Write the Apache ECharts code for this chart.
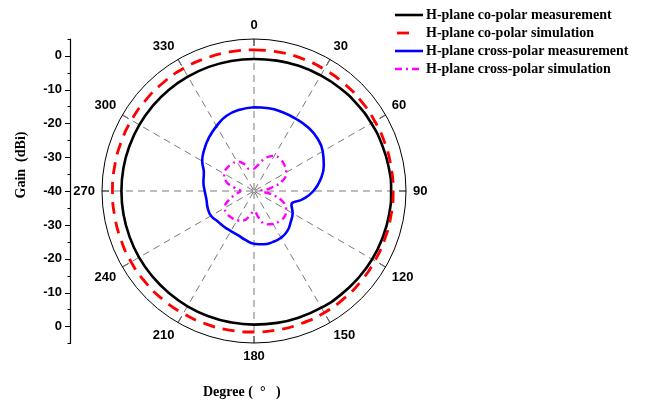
<!DOCTYPE html>
<html><head><meta charset="utf-8">
<script src="https://cdn.jsdelivr.net/npm/echarts@6/dist/echarts.min.js"></script>
<style>html,body{margin:0;padding:0;background:#fff}#c{width:646px;height:409px}</style>
</head><body><div id="c"></div>
<script>
// Angles (degrees) for every series, 10-degree steps, closed loop
const angles = [0,10,20,30,40,50,60,70,80,90,100,110,120,130,140,150,160,170,180,190,200,210,220,230,240,250,260,270,280,290,300,310,320,330,340,350,360];
const coMeas = [-0.9,-0.8,-0.65,-0.5,-0.3,-0.1,0.1,0.3,0.5,0.6,0.6,0.5,0.4,0.2,0.05,-0.1,-0.25,-0.35,-0.45,-0.5,-0.55,-0.6,-0.65,-0.7,-0.7,-0.75,-0.75,-0.75,-0.75,-0.8,-0.8,-0.85,-0.85,-0.9,-0.9,-0.9,-0.9];
const coSim = [1.8,1.75,1.7,1.6,1.5,1.4,1.3,1.25,1.2,1.2,1.2,1.25,1.3,1.4,1.5,1.6,1.65,1.7,1.75,1.8,1.85,1.9,1.95,2.0,2.0,1.95,1.9,1.9,1.9,1.9,1.9,1.85,1.85,1.85,1.8,1.8,1.8];
const crossMeas = [-15.2,-15.1,-15.2,-15.3,-15.3,-15.6,-16.5,-18,-20,-22.4,-25.5,-28.2,-26.8,-25.8,-24.6,-24,-23.9,-24,-24.4,-25.3,-26.1,-26.3,-26.2,-26,-25.3,-25.4,-25.7,-25.4,-24.8,-24.2,-22.3,-20.8,-19.3,-17.8,-16.3,-15.6,-15.2];
const crossSim = [-33.5,-32,-29.5,-28,-27.8,-28.2,-29,-31,-35,-38,-35,-31,-29,-28.2,-28.3,-28.7,-29.5,-32,-34,-32.5,-30.7,-30,-29.7,-29.6,-30,-32,-34.5,-36,-34,-31,-29.8,-29.5,-29.7,-30,-31.5,-33.5,-33.5];
const angleTicks = [0,30,60,90,120,150,180,210,240,270,300,330];
const gainTickValues = [-40,-30,-20,-10,0,10,20,30,40];
const seriesNames = ['H-plane co-polar measurement','H-plane co-polar simulation','H-plane cross-polar measurement','H-plane cross-polar simulation'];

const colors = ['#000000', '#ff0000', '#0000ff', '#ff00ff'];
const dashes = ['solid', [12, 8], 'solid', [7, 4, 2, 4]];
const widths = [2.6, 2.8, 2.6, 2.4];

const pairs = (vals) => vals.map((v, i) => [v, angles[i]]);

// legend drawn as graphic lines + text
const legendGraphics = [];
seriesNames.forEach((name, i) => {
  const y = 15 + i * 18;
  const x1 = i === 1 ? 397 : 395;
  const x2 = i === 1 ? 409 : 423;
  legendGraphics.push({ type: 'line', shape: { x1: x1, y1: y, x2: x2, y2: y },
    style: { stroke: colors[i], lineWidth: widths[i], lineDash: Array.isArray(dashes[i]) && i !== 1 ? dashes[i] : null } });
  legendGraphics.push({ type: 'text', x: 426, y: y, style: { text: name, fill: '#000', font: 'bold 14px "Liberation Serif"', verticalAlign: 'middle' } });
});

const chart = echarts.init(document.getElementById('c'));
chart.setOption({
  animation: false,
  backgroundColor: '#fff',
  polar: { center: [254, 191], radius: [0, 152] },
  angleAxis: {
    type: 'value', min: 0, max: 360, interval: 30, startAngle: 90, clockwise: true,
    axisLine: { show: true, lineStyle: { color: '#000', width: 1 } },
    axisTick: { show: true, inside: true, length: 7, lineStyle: { color: '#000', width: 1 } },
    axisLabel: { show: true, margin: 7, color: '#000', fontFamily: 'Liberation Sans', fontWeight: 'bold', fontSize: 13,
      formatter: (v) => angleTicks.indexOf(v) >= 0 ? String(v) : '' },
    splitLine: { show: true, lineStyle: { color: '#7a7a7a', width: 1, type: [7, 5] } }
  },
  radiusAxis: {
    type: 'value', min: -40, max: 5,
    axisLine: { show: false }, axisTick: { show: false }, axisLabel: { show: false }, splitLine: { show: false }
  },
  grid: { left: 70, top: 39, width: 10, height: 304.5 },
  xAxis: { type: 'value', show: false, min: 0, max: 1 },
  yAxis: [
    { type: 'value', min: -45, max: 45, interval: 5, position: 'left',
      axisLine: { show: true, lineStyle: { color: '#000', width: 1.2 } },
      axisTick: { show: true, length: 2.5, lineStyle: { color: '#000', width: 1 } },
      axisLabel: { show: false }, splitLine: { show: false } },
    { type: 'value', min: -45, max: 45, position: 'left',
      axisLine: { show: false },
      axisTick: { show: true, length: 5, customValues: gainTickValues, lineStyle: { color: '#000', width: 1 } },
      axisLabel: { show: true, margin: 8, customValues: gainTickValues, color: '#000', fontFamily: 'Liberation Sans', fontWeight: 'bold', fontSize: 13,
        formatter: (v) => String(Math.abs(v) - 40) },
      splitLine: { show: false } }
  ],
  graphic: legendGraphics.concat([
    { type: 'text', x: 21, y: 165, rotation: Math.PI / 2,
      style: { text: 'Gain  (dBi)', fill: '#000', font: 'bold 14px "Liberation Serif"', align: 'center', verticalAlign: 'middle' } },
    { type: 'text', left: 203, top: 385, style: { text: 'Degree (  °   )', fill: '#000', font: 'bold 14px "Liberation Serif"' } }
  ]),
  series: seriesNames.map((name, i) => ({
    name: name, type: 'line', coordinateSystem: 'polar', symbol: 'none', smooth: true, z: i % 2 ? 4 : 3,
    data: pairs([coMeas, coSim, crossMeas, crossSim][i]),
    lineStyle: { color: colors[i], width: widths[i], type: dashes[i] }, itemStyle: { color: colors[i] }
  }))
});
</script></body></html>
